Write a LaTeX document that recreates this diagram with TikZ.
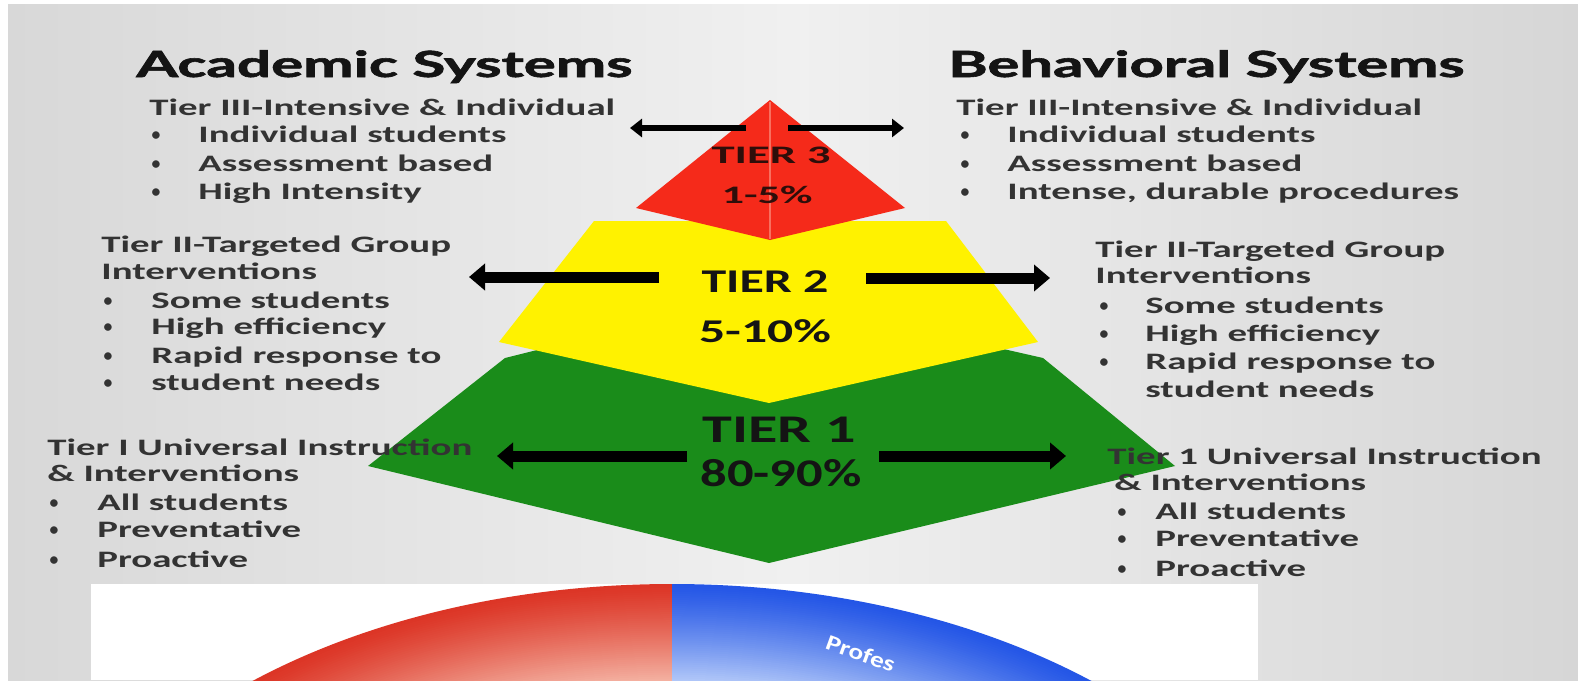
\documentclass[tikz,border=0pt]{standalone}
\usepackage{fontspec}
\usepackage{graphicx}
\setmainfont{Carlito}
\newfontfamily\titlefont[BoldFeatures={FakeBold=1.6}]{Lato}
\usetikzlibrary{arrows.meta}
\definecolor{bgL}{HTML}{D8D8D8}
\definecolor{bgM}{HTML}{F0F0F0}
\definecolor{bgR}{HTML}{D6D6D6}
\definecolor{tred}{HTML}{F52A1A}
\definecolor{tredline}{HTML}{F8705F}
\definecolor{tyel}{HTML}{FFF200}
\definecolor{tgrn}{HTML}{1A8C1A}
\definecolor{bodytxt}{HTML}{333333}
\definecolor{titletxt}{HTML}{141414}
\definecolor{tierdark}{HTML}{141414}
\definecolor{tierthree}{HTML}{2E0E0A}
\definecolor{redin}{HTML}{F4B2A2}
\definecolor{redout}{HTML}{DC3526}
\definecolor{bluein}{HTML}{B2C8F8}
\definecolor{blueout}{HTML}{2456E6}
\newdimen\pxu \pxu=0.5pt
\newlength\tmplen
\newcommand\fitw[2]{\resizebox{#1\pxu}{\height}{#2}}
\newcommand\bodyfont{\bfseries\fontsize{11.8}{14}\selectfont}
\newcommand\bx[1]{\scalebox{\bodyx}[1]{#1}}
\newcommand\bul[1]{\llap{\raisebox{0.6pt}{\scalebox{0.75}{\textbullet}}\hspace{#1\pxu}}}
\begin{document}
\settowidth{\tmplen}{\bodyfont Individual students}%
\pgfmathsetmacro{\bodyx}{154/\tmplen}%
\begin{tikzpicture}[x=0.5pt,y=-0.5pt,
  body/.style={anchor=base west, inner sep=0pt, font=\bodyfont, text=bodytxt},
  ttl/.style={anchor=base west, inner sep=0pt, font=\titlefont\bfseries\fontsize{18}{20}\selectfont, text=titletxt},
  tierlab/.style={inner sep=0pt, anchor=center, text=tierdark},
  bigarrow/.style={line width=5.5pt, -{Triangle[length=8pt,width=13pt]}},
  smallarrow/.style={line width=3pt, -{Triangle[length=6pt,width=9pt]}}]
\useasboundingbox (0,0) rectangle (1578,680);
\clip (0,0) rectangle (1578,680);
\fill[white] (0,0) rectangle (1578,680);
\shade[left color=bgL, right color=bgR, middle color=bgM] (8,4) rectangle (1578,680);
% pyramid
\fill[tgrn] (541,349) -- (505,358) -- (368,466) -- (769,563) -- (1175,466) -- (1043,358) -- (999,348) -- cycle;
\fill[tyel] (594,221) -- (946,221) -- (1038,342) -- (769,403) -- (499,342) -- cycle;
\fill[tred] (770,100) -- (905,208) -- (770,240) -- (636,208) -- cycle;
\draw[tredline, line width=0.6pt] (770,102) -- (770,239);
% arrows
\coordinate (a3ls) at (746,128); \coordinate (a3le) at (630,128);
\coordinate (a3rs) at (788,128); \coordinate (a3re) at (904,128);
\coordinate (a2ls) at (659,277); \coordinate (a2le) at (469,277);
\coordinate (a2rs) at (866,278); \coordinate (a2re) at (1050,278);
\coordinate (a1ls) at (687,456); \coordinate (a1le) at (497,456);
\coordinate (a1rs) at (879,456); \coordinate (a1re) at (1066,456);
\draw[smallarrow] (a3ls) -- (a3le);
\draw[smallarrow] (a3rs) -- (a3re);
\draw[bigarrow] (a2ls) -- (a2le);
\draw[bigarrow] (a2rs) -- (a2re);
\draw[bigarrow] (a1ls) -- (a1le);
\draw[bigarrow] (a1rs) -- (a1re);
% tier labels
\node[tierlab, text=tierthree, font=\bfseries\fontsize{12.6}{14}\selectfont] (t3) at (771,155) {\fitw{119}{TIER 3}};
\node[tierlab, text=tierthree, font=\bfseries\fontsize{12.6}{14}\selectfont] (p3) at (767,195) {\fitw{91}{1-5\%}};
\node[tierlab, font=\bfseries\fontsize{16.6}{18}\selectfont] (t2) at (765,282) {\fitw{127}{TIER 2}};
\node[tierlab, font=\bfseries\fontsize{16.6}{18}\selectfont] (p2) at (765,331) {\fitw{132}{5-10\%}};
\node[tierlab, font=\bfseries\fontsize{19.6}{22}\selectfont] (t1) at (779,430) {\fitw{153}{TIER 1}};
\node[tierlab, font=\bfseries\fontsize{19.6}{22}\selectfont] (p1) at (781,473) {\fitw{161}{80-90\%}};
% titles
\node[ttl] (acad) at (136,77) {\fitw{496}{Academic Systems}};
\node[ttl] (behav) at (948,77) {\fitw{516}{Behavioral Systems}};
% left tier III
\node[body] (a3h) at (149,115) {\bx{Tier III-Intensive \& Individual}};
\node[body] (a3i) at (198,142) {\bul{38}\bx{Individual students}};
\node[body] (a3j) at (198,171) {\bul{38}\bx{Assessment based}};
\node[body] (a3k) at (198,199) {\bul{38}\bx{High Intensity}};
% right tier III
\node[body] (b3h) at (956,115) {\bx{Tier III-Intensive \& Individual}};
\node[body] (b3i) at (1007,142) {\bul{38}\bx{Individual students}};
\node[body] (b3j) at (1007,171) {\bul{38}\bx{Assessment based}};
\node[body] (b3k) at (1007,199) {\bul{38}\bx{Intense, durable procedures}};
% left tier II
\node[body] (a2h) at (101,252) {\bx{Tier II-Targeted Group}};
\node[body] (a2g) at (101,279) {\bx{Interventions}};
\node[body] (a2i) at (151,308) {\bul{39}\bx{Some students}};
\node[body] (a2j) at (151,334) {\bul{39}\bx{High efficiency}};
\node[body] (a2k) at (151,363) {\bul{39}\bx{Rapid response to}};
\node[body] (a2l) at (151,390) {\bul{39}\bx{student needs}};
% right tier II
\node[body] (b2h) at (1095,257) {\bx{Tier II-Targeted Group}};
\node[body] (b2g) at (1095,283) {\bx{Interventions}};
\node[body] (b2i) at (1145,313) {\bul{37}\bx{Some students}};
\node[body] (b2j) at (1145,341) {\bul{37}\bx{High efficiency}};
\node[body] (b2k) at (1145,369) {\bul{37}\bx{Rapid response to}};
\node[body] (b2l) at (1145,397) {\bx{student needs}};
% left tier I
\node[body] (a1h) at (47,455) {\bx{Tier I Universal Instruction}};
\node[body] (a1g) at (47,481) {\bx{\& Interventions}};
\node[body] (a1i) at (97,510) {\bul{39}\bx{All students}};
\node[body] (a1j) at (97,537) {\bul{39}\bx{Preventative}};
\node[body] (a1k) at (97,567) {\bul{39}\bx{Proactive}};
% right tier I
\node[body] (b1h) at (1107,464) {\bx{Tier 1 Universal Instruction}};
\node[body] (b1g) at (1114,490) {\bx{\& Interventions}};
\node[body] (b1i) at (1155,519) {\bul{29}\bx{All students}};
\node[body] (b1j) at (1155,546) {\bul{29}\bx{Preventative}};
\node[body] (b1k) at (1155,576) {\bul{29}\bx{Proactive}};
% bottom picture
\fill[white] (91,584) rectangle (1258,680);
\begin{scope}
  \clip (91,584) rectangle (672,680);
  \foreach \i in {0,...,48} {
    \pgfmathsetmacro{\rx}{644*(1-\i*0.005)}
    \pgfmathsetmacro{\ry}{402*(1-\i*0.005)}
    \pgfmathsetmacro{\pc}{100*(\i/48)^1.2}
    \fill[redin!\pc!redout] (672,986) ellipse [x radius=\rx, y radius=\ry];
  }
\end{scope}
\begin{scope}
  \clip (672,584) rectangle (1258,680);
  \foreach \i in {0,...,48} {
    \pgfmathsetmacro{\rx}{644*(1-\i*0.005)}
    \pgfmathsetmacro{\ry}{402*(1-\i*0.005)}
    \pgfmathsetmacro{\pc}{100*(\i/48)^1.2}
    \fill[bluein!\pc!blueout] (672,986) ellipse [x radius=\rx, y radius=\ry];
  }
\end{scope}
\node[anchor=base west, inner sep=0pt, text=white, font=\bfseries\fontsize{11}{13}\selectfont, rotate=-20] (prof) at (824,648) {\scalebox{1.25}[1]{Profes}};
\end{tikzpicture}
\end{document}
